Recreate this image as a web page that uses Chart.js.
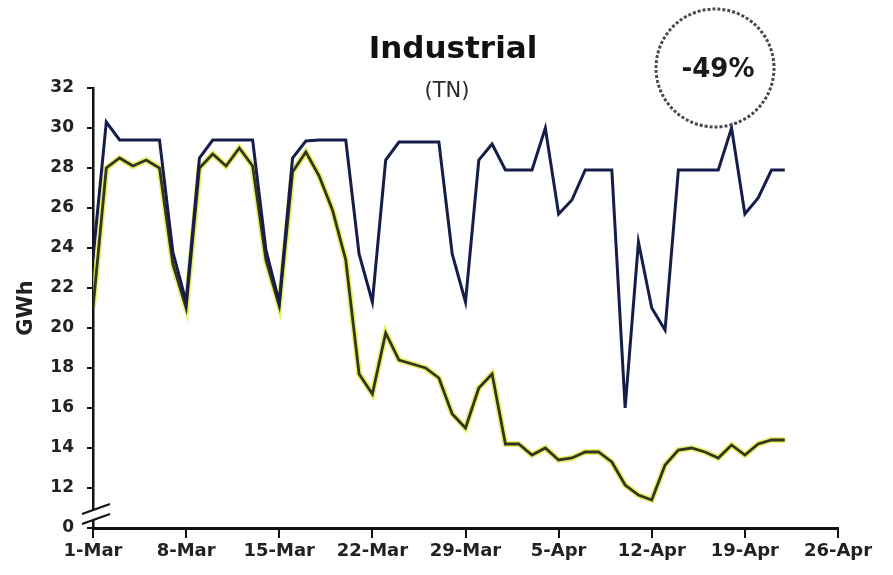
<!DOCTYPE html>
<html>
<head>
<meta charset="utf-8">
<title>Industrial (TN)</title>
<script src="https://cdn.jsdelivr.net/npm/chart.js@4.4.1/dist/chart.umd.min.js"></script>
<style>
    html, body { margin: 0; padding: 0; background: #fff; }
</style>
</head>
<body>
<canvas id="chart" width="893" height="575"></canvas>
<script>
// one value per day, starting 1-Mar
const referenceGWh = [
    23.5, 30.3, 29.4, 29.4, 29.4, 29.4, 23.8, 21.3, 28.5, 29.4,
    29.4, 29.4, 29.4, 23.9, 21.3, 28.5, 29.35, 29.4, 29.4, 29.4,
    23.7, 21.3, 28.4, 29.3, 29.3, 29.3, 29.3, 23.7, 21.3, 28.4,
    29.2, 27.9, 27.9, 27.9, 30.0, 25.7, 26.4, 27.9, 27.9, 27.9,
    16.0, 24.3, 21.0, 19.9, 27.9, 27.9, 27.9, 27.9, 30.0, 25.7,
    26.5, 27.9, 27.9
];
const actualGWh = [
    21.0, 28.0, 28.5, 28.1, 28.4, 28.0, 23.2, 21.0, 28.0, 28.7,
    28.1, 29.0, 28.1, 23.4, 21.1, 27.8, 28.8, 27.6, 25.9, 23.4,
    17.7, 16.7, 19.75, 18.4, 18.2, 18.0, 17.5, 15.7, 15.0, 17.0,
    17.7, 14.2, 14.2, 13.65, 14.0, 13.4, 13.5, 13.8, 13.8, 13.3,
    12.15, 11.65, 11.4, 13.15, 13.9, 14.0, 13.8, 13.5, 14.15, 13.65,
    14.2, 14.4, 14.4
];
const xTickLabels = ['1-Mar', '8-Mar', '15-Mar', '22-Mar', '29-Mar', '5-Apr', '12-Apr', '19-Apr', '26-Apr'];
const yTicks = [0, 12, 14, 16, 18, 20, 22, 24, 26, 28, 30, 32];

const FONT = 'DejaVu Sans';

const toPoints = (values) => values.map((v, i) => ({ x: i, y: v }));

// titles, axis break and the -49% bubble
const extras = {
    id: 'extras',
    afterDraw(chart) {
        const { ctx, scales } = chart;
        const x = scales.x;
        const y = scales.y;
        ctx.save();

        ctx.fillStyle = '#111';
        ctx.textAlign = 'center';
        ctx.textBaseline = 'middle';
        ctx.font = 'bold 31px ' + FONT;
        ctx.fillText('Industrial', 453, 50);
        ctx.font = '21px ' + FONT;
        ctx.fillStyle = '#2a2a2a';
        ctx.fillText('(TN)', 447, 92);

        // break marks on the y axis
        const left = x.left;
        const yb = y.getPixelForValue(11) + 1;
        ctx.fillStyle = '#fff';
        ctx.beginPath();
        ctx.moveTo(left - 11, yb + 5);
        ctx.lineTo(left + 17, yb - 5);
        ctx.lineTo(left + 17, yb + 5);
        ctx.lineTo(left - 11, yb + 15);
        ctx.closePath();
        ctx.fill();
        ctx.strokeStyle = '#111';
        ctx.lineWidth = 2;
        ctx.beginPath();
        ctx.moveTo(left - 11, yb + 5);
        ctx.lineTo(left + 17, yb - 5);
        ctx.moveTo(left - 11, yb + 15);
        ctx.lineTo(left + 17, yb + 5);
        ctx.stroke();

        // dashed circle
        ctx.strokeStyle = '#4a4a4a';
        ctx.lineWidth = 3;
        ctx.setLineDash([3, 2]);
        ctx.beginPath();
        ctx.arc(715, 68, 59, 0, Math.PI * 2);
        ctx.stroke();
        ctx.setLineDash([]);
        ctx.fillStyle = '#1a1a1a';
        ctx.font = 'bold 26px ' + FONT;
        ctx.fillText('-49%', 718, 70);

        ctx.restore();
    },
};

new Chart(document.getElementById('chart'), {
    type: 'line',
    data: {
        datasets: [
            {
                label: 'Reference',
                data: toPoints(referenceGWh),
                borderColor: '#161d4a',
                borderWidth: 3,
            },
            {
                label: 'Actual',
                data: toPoints(actualGWh),
                borderColor: '#33351c',
                borderWidth: 2.8,
            },
            {
                label: 'Actual (halo)',
                data: toPoints(actualGWh),
                borderColor: 'rgba(225, 236, 60, 0.75)',
                borderWidth: 6,
            },
        ],
    },
    options: {
        responsive: false,
        animation: false,
        events: [],
        elements: {
            point: { radius: 0 },
            line: { tension: 0, borderJoinStyle: 'miter', borderCapStyle: 'butt' },
        },
        layout: {
            padding: { top: 88, right: 55, left: 0, bottom: 0 },
        },
        plugins: {
            legend: { display: false },
            tooltip: { enabled: false },
        },
        scales: {
            x: {
                type: 'linear',
                min: 0,
                max: 56,
                afterFit: (scale) => { scale.height = 47; },
                border: { color: '#111', width: 3 },
                grid: { drawOnChartArea: false, tickLength: 10, color: '#111', lineWidth: 2 },
                ticks: {
                    stepSize: 7,
                    autoSkip: false,
                    maxRotation: 0,
                    padding: 3,
                    color: '#222',
                    font: { family: FONT, size: 18, weight: 'bold' },
                    callback: (value) => xTickLabels[value / 7],
                },
            },
            y: {
                type: 'linear',
                min: 10,
                max: 32,
                afterFit: (scale) => { scale.width = 93; },
                afterBuildTicks: (scale) => {
                    scale.ticks = yTicks.map((t) => ({ value: t === 0 ? 10 : t }));
                },
                border: { color: '#111', width: 2.5 },
                grid: { drawOnChartArea: false, tickLength: 6, color: '#111', lineWidth: 2 },
                title: {
                    display: true,
                    text: 'GWh',
                    color: '#222',
                    padding: { top: 14, bottom: 0 },
                    font: { family: FONT, size: 21, weight: 'bold' },
                },
                ticks: {
                    padding: 13,
                    color: '#222',
                    font: { family: FONT, size: 17, weight: 'bold' },
                    callback: (value) => (value === 10 ? '0' : value),
                },
            },
        },
    },
    plugins: [extras],
});
</script>
</body>
</html>
